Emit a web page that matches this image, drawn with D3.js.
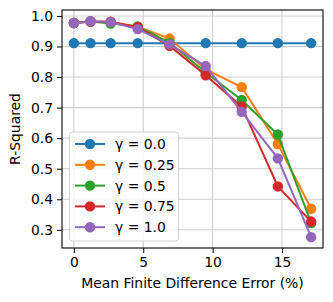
<!DOCTYPE html>
<html>
<head>
<meta charset="utf-8">
<script src="https://cdn.jsdelivr.net/npm/d3@7"></script>
<style>
  body { margin: 0; background: #fff; }
  text { font-family: "DejaVu Sans", sans-serif; }
</style>
</head>
<body>
<script>
// x positions (mean finite difference error, %)
const errors = [0, 1.2, 2.65, 4.6, 6.9, 9.5, 12.1, 14.7, 17.1];

// R-squared per gamma
const gammas = ["0.0", "0.25", "0.5", "0.75", "1.0"];
const r2Gamma00 = [0.911, 0.911, 0.911, 0.911, 0.911, 0.911, 0.911, 0.911, 0.911];
const r2Gamma025 = [0.977, 0.982, 0.980, 0.965, 0.926, 0.825, 0.767, 0.581, 0.369];
const r2Gamma05 = [0.977, 0.982, 0.975, 0.966, 0.912, 0.815, 0.725, 0.612, 0.322];
const r2Gamma075 = [0.977, 0.982, 0.981, 0.963, 0.902, 0.806, 0.703, 0.442, 0.327];
const r2Gamma10 = [0.977, 0.983, 0.980, 0.957, 0.907, 0.836, 0.686, 0.534, 0.276];
const seriesValues = [r2Gamma00, r2Gamma025, r2Gamma05, r2Gamma075, r2Gamma10];

const xTicks = [0, 5, 10, 15];
const yTicks = [0.3, 0.4, 0.5, 0.6, 0.7, 0.8, 0.9, 1.0];

// couleurs tab10 de matplotlib
const colors = ["#1f77b4", "#ff7f0e", "#2ca02c", "#d62728", "#9467bd"];

const width = 333, height = 302;
const margin = { left: 62, right: 10, top: 10, bottom: 54 };
const fontSize = "13.9px";

const svg = d3.select("body").append("svg")
    .attr("width", width)
    .attr("height", height);

const x = d3.scaleLinear().domain([-0.855, 17.955]).range([margin.left, width - margin.right]);
const y = d3.scaleLinear().domain([0.2405, 1.0195]).range([height - margin.bottom, margin.top]);

// grille
const grid = svg.append("g");
grid.selectAll(".gx").data(xTicks).enter().append("line")
    .attr("x1", d => x(d)).attr("x2", d => x(d))
    .attr("y1", y.range()[0]).attr("y2", y.range()[1])
    .style("stroke", "#cfcfcf").style("stroke-width", 1.1);
grid.selectAll(".gy").data(yTicks).enter().append("line")
    .attr("y1", d => y(d)).attr("y2", d => y(d))
    .attr("x1", x.range()[0]).attr("x2", x.range()[1])
    .style("stroke", "#cfcfcf").style("stroke-width", 1.1);

// axes
const xAxis = svg.append("g")
    .attr("transform", `translate(0,${height - margin.bottom})`)
    .call(d3.axisBottom(x).tickValues(xTicks).tickFormat(d3.format("d")).tickSize(5).tickPadding(4));
const yAxis = svg.append("g")
    .attr("transform", `translate(${margin.left},0)`)
    .call(d3.axisLeft(y).tickValues(yTicks).tickFormat(d3.format(".1f")).tickSize(5).tickPadding(4));
[xAxis, yAxis].forEach(a => {
    a.select(".domain").remove();
    a.selectAll("text").style("font-size", fontSize).style("fill", "#000");
    a.selectAll("line").style("stroke", "#000");
});

// lignes et marqueurs
const line = d3.line().x((d, i) => x(errors[i])).y(d => y(d));
seriesValues.forEach((vals, k) => {
    const g = svg.append("g");
    g.append("path").datum(vals)
        .attr("d", line)
        .style("fill", "none")
        .style("stroke", colors[k])
        .style("stroke-width", 2);
    g.selectAll("circle").data(vals).enter().append("circle")
        .attr("cx", (d, i) => x(errors[i]))
        .attr("cy", d => y(d))
        .attr("r", 5.2)
        .style("fill", colors[k]);
});

// cadre
svg.append("rect")
    .attr("x", margin.left).attr("y", margin.top)
    .attr("width", width - margin.left - margin.right)
    .attr("height", height - margin.top - margin.bottom)
    .style("fill", "none").style("stroke", "#000").style("stroke-width", 1.1);

// légende
const legend = svg.append("g");
legend.append("rect")
    .attr("x", 69.5).attr("y", 132).attr("width", 109).attr("height", 109)
    .attr("rx", 3)
    .style("fill", "rgba(255,255,255,0.8)")
    .style("stroke", "#d0d0d0");
gammas.forEach((gm, k) => {
    const ly = 144 + k * 20.8;
    legend.append("line")
        .attr("x1", 75).attr("x2", 105).attr("y1", ly).attr("y2", ly)
        .style("stroke", colors[k]).style("stroke-width", 2);
    legend.append("circle")
        .attr("cx", 90).attr("cy", ly).attr("r", 5.2)
        .style("fill", colors[k]);
    legend.append("text")
        .attr("x", 115).attr("y", ly + 5)
        .style("font-size", fontSize)
        .text(`γ = ${gm}`);
});

// titres des axes
svg.append("text")
    .attr("x", (margin.left + width - margin.right) / 2)
    .attr("y", 288)
    .attr("text-anchor", "middle")
    .style("font-size", fontSize)
    .text("Mean Finite Difference Error (%)");
svg.append("text")
    .attr("transform", `translate(20,${(margin.top + height - margin.bottom) / 2}) rotate(-90)`)
    .attr("text-anchor", "middle")
    .style("font-size", fontSize)
    .text("R-Squared");
</script>
</body>
</html>
